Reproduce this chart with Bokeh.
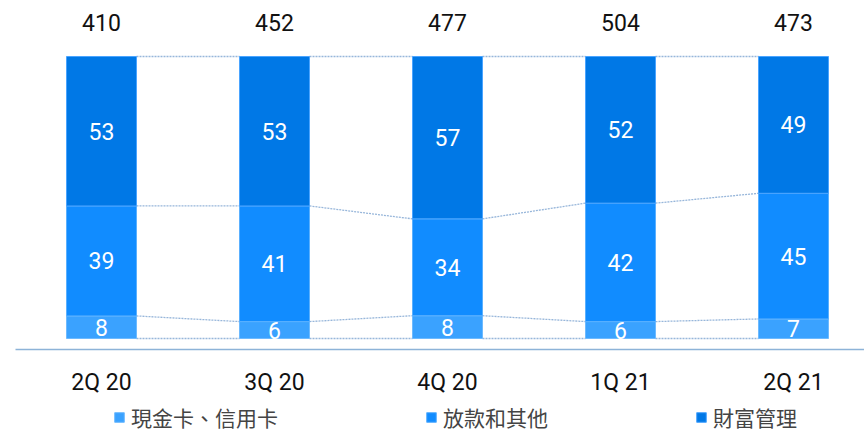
from bokeh.plotting import figure
from bokeh.models import Range1d, ColumnDataSource, Legend, LegendItem
from bokeh.core.properties import value
from bokeh.embed import file_html
from bokeh.resources import INLINE

categories = ["2Q 20", "3Q 20", "4Q 20", "1Q 21", "2Q 21"]
totals = [410, 452, 477, 504, 473]
cards = [8, 6, 8, 6, 7]
loans = [39, 41, 34, 42, 45]
wealth = [53, 53, 57, 52, 49]
series_names = ["現金卡、信用卡", "放款和其他", "財富管理"]
colors = ["#3aa2ff", "#118cff", "#0078e6"]

W, H = 864, 432
px_x = 173.0      # pixels per category
x0_px = 101.0     # first bar centre
px_y = 282.0      # pixels for 100%
y0_px = 338.0     # baseline from top
bar_w = 70.0 / px_x

x_start = -x0_px / px_x
x_end = (W - x0_px) / px_x
y_start = -(H - y0_px) / px_y
y_end = 1 + (y0_px - px_y) / px_y

def ypix(canvas_y):
    return (y0_px - canvas_y) / px_y

xs = list(range(len(categories)))
sums = [a + b + c for a, b, c in zip(cards, loans, wealth)]
f1 = [a / s for a, s in zip(cards, sums)]
f2 = [b / s for b, s in zip(loans, sums)]
f3 = [c / s for c, s in zip(wealth, sums)]
b1 = [0.0] * len(xs)
t1 = f1
t2 = [a + b for a, b in zip(t1, f2)]
t3 = [a + b for a, b in zip(t2, f3)]

src = ColumnDataSource(dict(
    x=xs, b1=b1, t1=t1, t2=t2, t3=t3,
    m1=[(a + b) / 2 for a, b in zip(b1, t1)],
    m2=[(a + b) / 2 for a, b in zip(t1, t2)],
    m3=[(a + b) / 2 for a, b in zip(t2, t3)],
    l1=[str(v) for v in cards], l2=[str(v) for v in loans], l3=[str(v) for v in wealth],
))

p = figure(width=W, height=H, output_backend="svg", toolbar_location=None,
           x_range=Range1d(x_start, x_end), y_range=Range1d(y_start, y_end),
           x_axis_type=None, y_axis_type=None, min_border=0,
           outline_line_color=None, background_fill_color="white")
p.grid.visible = False

num_font = value("Roboto")

# connectors
sx, sy, ex, ey = [], [], [], []
levels = [b1, t1, t2, t3]
for i in range(len(xs) - 1):
    for lv in levels:
        sx.append(xs[i] + bar_w / 2)
        sy.append(lv[i])
        ex.append(xs[i + 1] - bar_w / 2)
        ey.append(lv[i + 1])
p.segment(sx, sy, ex, ey, line_color="#97b6da", line_width=1.3, line_dash="2 1")

r1 = p.vbar(x="x", bottom="b1", top="t1", width=bar_w, source=src,
            fill_color=colors[0], line_color="#6dbaff", line_width=1)
r2 = p.vbar(x="x", bottom="t1", top="t2", width=bar_w, source=src,
            fill_color=colors[1], line_color="#5ab0ff", line_width=1)
r3 = p.vbar(x="x", bottom="t2", top="t3", width=bar_w, source=src,
            fill_color=colors[2], line_color="#4aa4ff", line_width=1)

for m, l in (("m1", "l1"), ("m2", "l2"), ("m3", "l3")):
    p.text(x="x", y=m, text=l, source=src, text_color="white", text_font=num_font,
           text_font_size="23px", text_align="center", text_baseline="middle")

src_top = ColumnDataSource(dict(x=xs, y=[ypix(22)] * len(xs), tot=[str(v) for v in totals]))
p.text(x="x", y="y", text="tot", source=src_top, text_color="#111111", text_font=num_font,
       text_font_size="23px", text_align="center", text_baseline="middle")

src_cat = ColumnDataSource(dict(x=xs, y=[ypix(382)] * len(xs), cat=categories))
p.text(x="x", y="y", text="cat", source=src_cat, text_color="#111111", text_font=num_font,
       text_font_size="23px", text_align="center", text_baseline="middle")

# axis line
ax_y = ypix(349)
p.segment([(15 - x0_px) / px_x], [ax_y], [x_end], [ax_y], line_color="#8db3d8", line_width=1.5)

legend = Legend(items=[LegendItem(label=series_names[0], renderers=[r1]),
                       LegendItem(label=series_names[1], renderers=[r2]),
                       LegendItem(label=series_names[2], renderers=[r3])],
                orientation="horizontal", location=(113, 0), spacing=147,
                glyph_width=12, glyph_height=12, label_standoff=6,
                padding=0, margin=0, border_line_color=None, background_fill_alpha=0,
                label_text_font="Noto Sans CJK TC", label_text_font_size="21px",
                label_text_color="#444444")
p.add_layout(legend)

open("out.html", "w").write(file_html(p, INLINE))
